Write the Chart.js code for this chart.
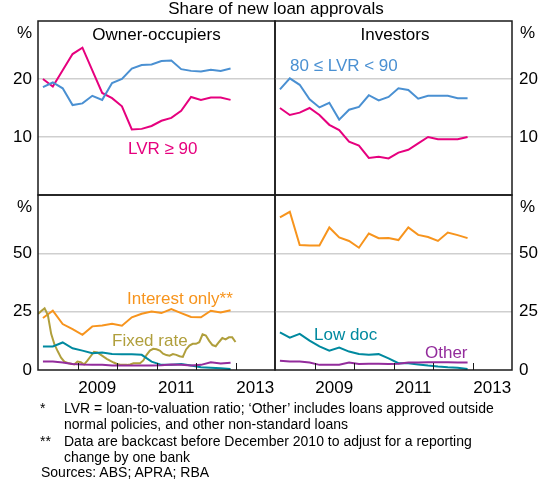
<!DOCTYPE html>
<html>
<head>
<meta charset="utf-8">
<script src="https://cdn.jsdelivr.net/npm/chart.js@4.4.1/dist/chart.umd.min.js"></script>
<style>
  body { margin: 0; background: #fff; font-family: "Liberation Sans", Arial, sans-serif; }
  #wrap { position: relative; width: 548px; height: 481px; overflow: hidden; }
  #wrap canvas { position: absolute; }
  .t { position: absolute; white-space: nowrap; line-height: 17px; font-size: 17px; color: #000; }
  .f { position: absolute; white-space: nowrap; line-height: 14px; font-size: 14px; color: #000; }
</style>
</head>
<body>
<div id="wrap">
  <canvas id="tl" width="280" height="190" style="left:0;top:11px"></canvas>
  <canvas id="tr" width="278" height="190" style="left:270px;top:11px"></canvas>
  <canvas id="bl" width="280" height="212" style="left:0;top:190px"></canvas>
  <canvas id="br" width="278" height="212" style="left:270px;top:190px"></canvas>

  <div class="t" style="left:0;width:552px;text-align:center;top:0">Share of new loan approvals</div>
  <div class="t" style="left:38px;width:237px;text-align:center;top:26px">Owner-occupiers</div>
  <div class="t" style="left:275px;width:240px;text-align:center;top:26px">Investors</div>

  <div class="t" style="left:0;width:32px;text-align:right;top:24px">%</div>
  <div class="t" style="left:520px;top:24px">%</div>
  <div class="t" style="left:0;width:32px;text-align:right;top:198px">%</div>
  <div class="t" style="left:520px;top:198px">%</div>

  <div class="t" style="left:128px;top:140px;color:#e6007e">LVR ≥ 90</div>
  <div class="t" style="left:290px;top:57px;color:#4a90d2">80 ≤ LVR &lt; 90</div>
  <div class="t" style="left:127px;top:290px;color:#f7941d">Interest only**</div>
  <div class="t" style="left:112px;top:332px;color:#b09f3c">Fixed rate</div>
  <div class="t" style="left:314px;top:326px;color:#00899f">Low doc</div>
  <div class="t" style="left:425px;top:344px;color:#932c9c">Other</div>

  <div class="f" style="left:40px;top:401px">*</div>
  <div class="f" style="left:64px;top:401px">LVR = loan-to-valuation ratio; ‘Other’ includes loans approved outside</div>
  <div class="f" style="left:64px;top:417px">normal policies, and other non-standard loans</div>
  <div class="f" style="left:40px;top:434px">**</div>
  <div class="f" style="left:64px;top:434px">Data are backcast before December 2010 to adjust for a reporting</div>
  <div class="f" style="left:64px;top:450px">change by one bank</div>
  <div class="f" style="left:41px;top:465px">Sources: ABS; APRA; RBA</div>
</div>

<script>
// quarterly observations
const quarters = ['2008-Q1', '2008-Q2', '2008-Q3', '2008-Q4', '2009-Q1', '2009-Q2', '2009-Q3', '2009-Q4',
  '2010-Q1', '2010-Q2', '2010-Q3', '2010-Q4', '2011-Q1', '2011-Q2', '2011-Q3', '2011-Q4',
  '2012-Q1', '2012-Q2', '2012-Q3', '2012-Q4'];

// monthly observations (fixed rate)
const months = ['2007-12',
  '2008-01', '2008-02', '2008-03', '2008-04', '2008-05', '2008-06', '2008-07', '2008-08', '2008-09', '2008-10', '2008-11', '2008-12',
  '2009-01', '2009-02', '2009-03', '2009-04', '2009-05', '2009-06', '2009-07', '2009-08', '2009-09', '2009-10', '2009-11', '2009-12',
  '2010-01', '2010-02', '2010-03', '2010-04', '2010-05', '2010-06', '2010-07', '2010-08', '2010-09', '2010-10', '2010-11', '2010-12',
  '2011-01', '2011-02', '2011-03', '2011-04', '2011-05', '2011-06', '2011-07', '2011-08', '2011-09', '2011-10', '2011-11', '2011-12',
  '2012-01', '2012-02', '2012-03', '2012-04', '2012-05', '2012-06', '2012-07', '2012-08', '2012-09', '2012-10', '2012-11', '2012-12'];

// owner-occupiers, % of new approvals
const ownerLvr90 = [20.0, 18.7, 21.5, 24.3, 25.4, 21.5, 17.6, 16.7, 15.3, 11.3, 11.4, 11.9, 12.8, 13.3, 14.5, 16.9, 16.4, 16.8, 16.8, 16.4];
const ownerLvr80to90 = [18.6, 19.4, 18.4, 15.5, 15.8, 17.1, 16.4, 19.3, 20.0, 21.8, 22.4, 22.5, 23.1, 23.2, 21.7, 21.4, 21.3, 21.6, 21.4, 21.8];
const ownerInterestOnly = [22.3, 25.4, 19.7, 17.5, 15.1, 18.7, 19.1, 19.8, 19.0, 22.6, 24.1, 25.1, 24.4, 26.1, 24.4, 22.7, 22.6, 25.4, 24.7, 25.6];
const ownerLowDoc = [10.1, 10.1, 11.8, 9.3, 8.3, 7.2, 7.5, 6.9, 6.8, 6.8, 6.5, 3.6, 2.2, 2.3, 2.6, 1.9, 1.2, 1.0, 0.7, 0.4];
const ownerOther = [3.6, 3.6, 3.2, 2.6, 2.4, 2.3, 2.2, 1.9, 1.9, 1.9, 1.9, 1.9, 2.0, 2.4, 2.2, 1.9, 2.2, 3.3, 2.8, 3.1];
const ownerFixedRate = [24.0,
  25.3, 26.4, 23.5, 15.5, 11.0, 8.0, 5.3, 3.6, 3.0, 2.7, 2.4, 3.6,
  3.3, 2.4, 4.0, 5.9, 7.8, 7.5, 6.6, 5.6, 4.7, 3.9, 3.2, 2.6,
  2.3, 2.2, 2.2, 2.4, 2.9, 2.9, 2.9, 4.1, 6.5, 8.3, 9.1, 8.9,
  8.3, 7.0, 6.4, 6.1, 6.8, 6.5, 5.9, 5.6, 8.8, 10.5, 11.2, 11.2,
  11.9, 15.3, 14.8, 12.5, 10.7, 10.2, 12.0, 13.7, 13.1, 14.0, 14.0, 12.0];

// investors, % of new approvals
const investorLvr80to90 = [18.2, 20.1, 19.0, 16.5, 15.1, 15.9, 13.0, 14.7, 15.2, 17.2, 16.3, 16.9, 18.4, 18.1, 16.6, 17.1, 17.1, 17.1, 16.7, 16.7];
const investorLvr90 = [15.0, 13.8, 14.2, 15.0, 13.8, 12.1, 11.2, 9.2, 8.5, 6.4, 6.6, 6.3, 7.3, 7.8, 8.9, 10.0, 9.6, 9.6, 9.6, 10.0];
const investorInterestOnly = [65.4, 67.8, 53.6, 53.4, 53.4, 61.1, 56.8, 55.3, 52.4, 58.5, 56.5, 56.6, 55.7, 61.1, 57.9, 57.0, 55.3, 58.9, 57.8, 56.5];
const investorLowDoc = [16.1, 13.9, 15.5, 12.6, 10.1, 8.3, 9.6, 7.9, 6.9, 6.5, 6.8, 5.0, 2.9, 2.9, 2.4, 1.9, 1.5, 1.2, 1.0, 0.4];
const investorOther = [4.0, 3.6, 3.6, 3.2, 2.2, 2.2, 2.3, 3.2, 2.6, 2.7, 2.7, 2.6, 2.7, 3.2, 3.2, 3.3, 3.3, 3.3, 3.2, 3.2];

const yearLabels = [2009, 2011, 2013];
const topTicks = { max: 30, step: 10, grid: [10, 20] };
const bottomTicks = { max: 75, step: 25, grid: [25, 50] };

const colors = {
  pink: '#e6007e',
  blue: '#4a90d2',
  orange: '#f7941d',
  olive: '#b09f3c',
  teal: '#00899f',
  purple: '#932c9c'
};

// mid-quarter and end-of-month positions in decimal years
const quarterX = q => +q.slice(0, 4) + (+q.slice(6) - 0.5) / 4;
const monthX = m => +m.slice(0, 4) + +m.slice(5) / 12;

function series(dates, toX, values, color) {
  return {
    data: values.map((v, i) => ({ x: toX(dates[i]), y: v })),
    borderColor: color,
    borderWidth: 2,
    pointRadius: 0,
    tension: 0,
    fill: false
  };
}

Chart.defaults.font.family = '"Liberation Sans", Arial, sans-serif';
Chart.defaults.font.size = 17;
Chart.defaults.color = '#000';

const framePlugin = {
  id: 'frame',
  afterDraw(chart) {
    const { ctx, chartArea: a } = chart;
    ctx.save();
    ctx.strokeStyle = '#1a1a1a';
    if (chart.options.plugins.frame.ticks) {
      const xs = chart.scales.x;
      ctx.lineWidth = 1;
      ctx.beginPath();
      for (let yr = 2009; yr <= 2013; yr++) {
        const px = Math.round(xs.getPixelForValue(yr)) + 0.5;
        ctx.moveTo(px, a.bottom);
        ctx.lineTo(px, a.bottom - 7);
      }
      ctx.stroke();
    }
    ctx.lineWidth = 1.5;
    ctx.strokeRect(a.left, a.top, a.right - a.left, a.bottom - a.top);
    ctx.restore();
  }
};

function makePanel(id, datasets, opts) {
  const yt = opts.yTicks;
  return new Chart(document.getElementById(id), {
    type: 'line',
    data: { datasets },
    options: {
      responsive: false,
      animation: false,
      layout: { padding: opts.padding },
      plugins: { legend: { display: false }, tooltip: { enabled: false }, frame: { ticks: opts.bottom } },
      scales: {
        x: {
          type: 'linear',
          min: 2008,
          max: 2014,
          display: opts.bottom,
          grid: { display: false, drawTicks: false },
          border: { display: false },
          ticks: {
            stepSize: 1,
            autoSkip: false,
            maxRotation: 0,
            padding: 8,
            labelOffset: 19.75,
            callback: v => yearLabels.includes(v) ? String(v) : ''
          },
          afterFit(s) {
            s.height = opts.bottom ? 32 : 0;
            s.paddingLeft = 0;
            s.paddingRight = 0;
          }
        },
        y: {
          position: opts.side,
          min: 0,
          max: yt.max,
          grid: {
            drawTicks: false,
            lineWidth: 1.5,
            color: c => yt.grid.includes(c.tick.value) ? '#cfcfcf' : 'rgba(0,0,0,0)'
          },
          border: { display: false },
          ticks: {
            stepSize: yt.step,
            padding: opts.side === 'left' ? 6 : 7,
            callback: v => (v === yt.max || (v === 0 && !opts.bottom)) ? '' : String(v)
          },
          afterFit(s) { s.width = opts.side === 'left' ? 38 : 36; s.paddingTop = 0; s.paddingBottom = 0; }
        }
      }
    },
    plugins: [framePlugin]
  });
}

makePanel('tl', [
  series(quarters, quarterX, ownerLvr80to90, colors.blue),
  series(quarters, quarterX, ownerLvr90, colors.pink)
], { side: 'left', bottom: false, yTicks: topTicks, padding: { top: 10, right: 5, bottom: 6, left: 0 } });

makePanel('tr', [
  series(quarters, quarterX, investorLvr80to90, colors.blue),
  series(quarters, quarterX, investorLvr90, colors.pink)
], { side: 'right', bottom: false, yTicks: topTicks, padding: { top: 10, right: 0, bottom: 6, left: 5 } });

makePanel('bl', [
  series(quarters, quarterX, ownerOther, colors.purple),
  series(quarters, quarterX, ownerLowDoc, colors.teal),
  series(months, monthX, ownerFixedRate, colors.olive),
  series(quarters, quarterX, ownerInterestOnly, colors.orange)
], { side: 'left', bottom: true, yTicks: bottomTicks, padding: { top: 5, right: 5, bottom: 0, left: 0 } });

makePanel('br', [
  series(quarters, quarterX, investorOther, colors.purple),
  series(quarters, quarterX, investorLowDoc, colors.teal),
  series(quarters, quarterX, investorInterestOnly, colors.orange)
], { side: 'right', bottom: true, yTicks: bottomTicks, padding: { top: 5, right: 0, bottom: 0, left: 5 } });
</script>
</body>
</html>
